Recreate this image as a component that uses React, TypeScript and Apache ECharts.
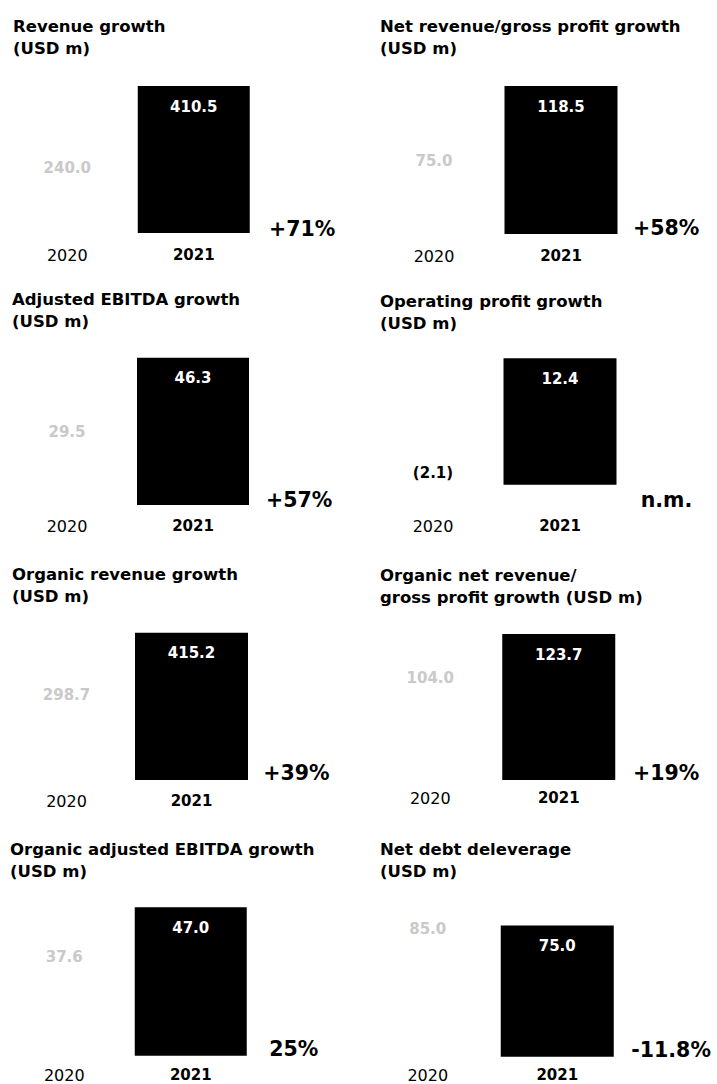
import React, { useEffect, useRef } from "react";
import * as echarts from "echarts";

const FONT = "DejaVu Sans";

const titles = [
  "Revenue growth\n(USD m)",
  "Net revenue/gross profit growth\n(USD m)",
  "Adjusted EBITDA growth\n(USD m)",
  "Operating profit growth\n(USD m)",
  "Organic revenue growth\n(USD m)",
  "Organic net revenue/\ngross profit growth (USD m)",
  "Organic adjusted EBITDA growth\n(USD m)",
  "Net debt deleverage\n(USD m)",
];
const years = ["2020", "2021"];
const values2020 = [240.0, 75.0, 29.5, -2.1, 298.7, 104.0, 37.6, 85.0];
const values2021 = [410.5, 118.5, 46.3, 12.4, 415.2, 123.7, 47.0, 75.0];
const changes = ["+71%", "+58%", "+57%", "n.m.", "+39%", "+19%", "25%", "-11.8%"];

// layout of each panel (pixels)
const panels = [
  { l: 4, w: 253, t: 86, h: 147, bw: 112, lm: 14, tx: 13, ty: 15.5, px: 269, py: 228.5 },
  { l: 370.5, w: 254, t: 86, h: 148, bw: 113, lm: 14, tx: 380, ty: 15.5, px: 633, py: 228 },
  { l: 4, w: 252, t: 357.7, h: 147.3, bw: 112, lm: 13, tx: 12, ty: 288, px: 266, py: 500 },
  { l: 369.5, w: 254, t: 358.3, h: 148, bw: 113, lm: 12, tx: 380, ty: 290, px: 640.7, py: 500 },
  { l: 4, w: 250, t: 632.7, h: 147.3, bw: 113, lm: 13, tx: 12, ty: 563, px: 263.3, py: 773.3 },
  { l: 366, w: 257, t: 634, h: 146, bw: 113, lm: 10, tx: 380, ty: 564, px: 633, py: 773.3 },
  { l: 1, w: 253, t: 907.3, h: 148.4, bw: 112, lm: 12, tx: 10, ty: 838, px: 269.3, py: 1049.3 },
  { l: 363, w: 259, t: 908, h: 148.7, bw: 113, lm: 11, tx: 380, ty: 838, px: 631.3, py: 1050 },
];

const fmt = (v: number) => (v < 0 ? `(${Math.abs(v).toFixed(1)})` : v.toFixed(1));

export default function App() {
  const ref = useRef<HTMLDivElement>(null);
  useEffect(() => {
    if (!ref.current) return;
    const chart = echarts.init(ref.current, undefined, { renderer: "svg" });
    const option: any = {
      animation: false,
      backgroundColor: "#ffffff",
      title: titles.map((t, i) => ({
        text: t,
        left: panels[i].tx,
        top: panels[i].ty,
        padding: 0,
        textStyle: {
          fontFamily: FONT,
          fontSize: 16.5,
          fontWeight: "bold",
          lineHeight: 22,
          color: "#000",
        },
      })),
      grid: panels.map((p) => ({ left: p.l, top: p.t, width: p.w, height: p.h, containLabel: false })),
      xAxis: panels.map((p, i) => ({
        type: "category",
        gridIndex: i,
        data: [
          { value: years[0], textStyle: { fontWeight: "normal" } },
          { value: years[1], textStyle: { fontWeight: "bold", fontSize: 15 } },
        ],
        axisLine: { show: false },
        axisTick: { show: false },
        splitLine: { show: false },
        axisLabel: {
          margin: p.lm,
          fontFamily: FONT,
          fontSize: 16,
          color: "#000",
          interval: 0,
        },
      })),
      yAxis: panels.map((p, i) => ({
        type: "value",
        gridIndex: i,
        show: false,
        min: (v: any) => Math.min(0, v.min),
        max: "dataMax",
        splitLine: { show: false },
      })),
      series: panels.map((p, i) => ({
        type: "bar",
        xAxisIndex: i,
        yAxisIndex: i,
        barWidth: p.bw,
        data: [
          {
            value: values2020[i],
            itemStyle: { color: "#ffffff" },
            label:
              values2020[i] < 0
                ? { position: "top", distance: 4, color: "#000" }
                : { position: "insideTop", distance: 13, color: "#c9c9c9" },
          },
          {
            value: values2021[i],
            itemStyle: { color: "#000000" },
            label: { position: "insideTop", distance: 13, color: "#ffffff" },
          },
        ],
        label: {
          show: true,
          fontFamily: FONT,
          fontSize: 15,
          fontWeight: "bold",
          formatter: (d: any) => fmt(d.value),
        },
      })),
      graphic: changes.map((c, i) => ({
        type: "text",
        x: panels[i].px,
        y: panels[i].py,
        style: {
          text: c,
          fontFamily: FONT,
          fontSize: 20.5,
          fontWeight: "bold",
          fill: "#000",
          textAlign: "left",
          textVerticalAlign: "middle",
        },
      })),
    };
    chart.setOption(option);
    return () => chart.dispose();
  }, []);
  return (
    <div
      ref={ref}
      style={{ position: "absolute", left: 0, top: 0, width: 717, height: 1084 }}
    />
  );
}
